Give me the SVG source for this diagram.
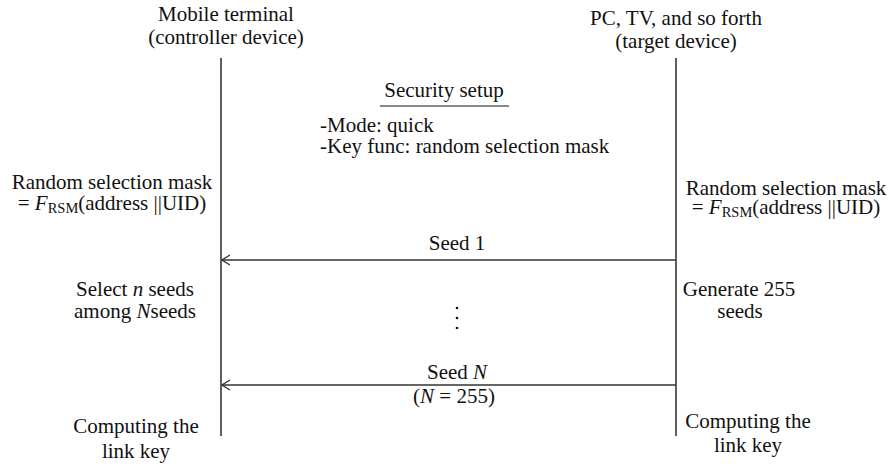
<svg xmlns="http://www.w3.org/2000/svg" width="889" height="467" viewBox="0 0 889 467">
<defs>
<style>
text{font-family:'Liberation Serif','Times New Roman',serif;font-size:21px;fill:#111}
.m{text-anchor:middle}
.i{font-style:italic}
.sub{font-size:14.5px}
.ln{stroke:#1a1a1a;stroke-width:1.4;fill:none}
.ar{stroke:#333;stroke-width:1.4;fill:none}
</style>
<marker id="oa" viewBox="-10 -6 11 12" markerWidth="11" markerHeight="12" refX="0" refY="0" orient="auto" markerUnits="userSpaceOnUse">
<path d="M-8,-5 L0,0 L-8,5" stroke="#333" stroke-width="1.3" fill="none"/>
</marker>
</defs>
<rect width="889" height="467" fill="#fff"/>
<g id="controller">
<text class="m" x="226" y="21">Mobile terminal</text>
<text class="m" x="226" y="44">(controller device)</text>
<line class="ln" x1="221" y1="58" x2="221" y2="436"/>
</g>
<g id="target">
<text class="m" x="676" y="25">PC, TV, and so forth</text>
<text class="m" x="676" y="48">(target device)</text>
<line class="ln" x1="676" y1="58" x2="676" y2="436"/>
</g>
<g id="setup">
<text class="m" x="444" y="97">Security setup</text>
<line x1="380" y1="106" x2="509" y2="106" stroke="#111" stroke-width="1.2"/>
<text x="320" y="132">-Mode: quick</text>
<text x="320" y="153">-Key func: random selection mask</text>
</g>
<g id="mask-left">
<text class="m" x="112" y="189">Random selection mask</text>
<text class="m" x="112" y="210">= <tspan class="i">F</tspan><tspan class="sub" dy="3">RSM</tspan><tspan dy="-3">(address ||UID)</tspan></text>
</g>
<g id="mask-right">
<text class="m" x="786" y="195">Random selection mask</text>
<text class="m" x="786" y="214">= <tspan class="i">F</tspan><tspan class="sub" dy="3">RSM</tspan><tspan dy="-3">(address ||UID)</tspan></text>
</g>
<g id="select">
<text class="m" x="135" y="296">Select <tspan class="i">n</tspan> seeds</text>
<text class="m" x="135" y="318">among <tspan class="i">N</tspan>seeds</text>
</g>
<g id="generate">
<text class="m" x="739" y="296">Generate 255</text>
<text class="m" x="740" y="318">seeds</text>
</g>
<g id="compute-left">
<text class="m" x="136" y="433">Computing the</text>
<text class="m" x="136" y="458">link key</text>
</g>
<g id="compute-right">
<text class="m" x="748" y="428">Computing the</text>
<text class="m" x="748" y="452">link key</text>
</g>
<g id="connectors">
<line class="ar" x1="676" y1="260" x2="222" y2="260" marker-end="url(#oa)"/>
<line class="ar" x1="676" y1="385" x2="222" y2="385" marker-end="url(#oa)"/>
<text class="m" x="457" y="250">Seed 1</text>
<circle cx="457" cy="308" r="1.3" fill="#111"/>
<circle cx="457" cy="318" r="1.3" fill="#111"/>
<circle cx="457" cy="328" r="1.3" fill="#111"/>
<text class="m" x="457" y="379">Seed <tspan class="i">N</tspan></text>
<text class="m" x="454" y="403">(<tspan class="i">N</tspan> = 255)</text>
</g>
</svg>
